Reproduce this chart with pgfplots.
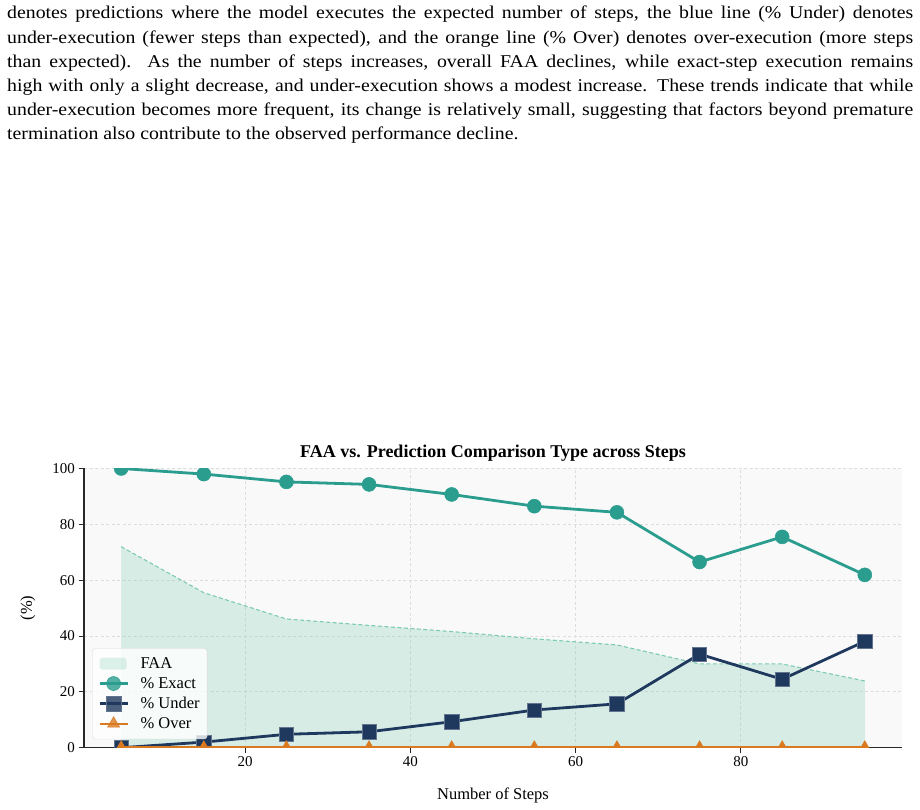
\documentclass[border=0pt]{standalone}
\usepackage{fontspec}
\setmainfont{Liberation Serif}
\newfontfamily\parfont[FakeStretch=1.1]{Liberation Serif}
\usepackage{pgfplots}
\pgfplotsset{compat=1.18}

\definecolor{exactc}{RGB}{42,157,143}
\definecolor{underc}{RGB}{31,57,94}
\definecolor{overc}{RGB}{218,122,32}
\definecolor{faac}{RGB}{102,194,165}
\definecolor{axbg}{RGB}{249,249,249}
\definecolor{gridc}{RGB}{221,221,221}
\definecolor{spinec}{RGB}{40,40,40}

\pgfplotsset{
  wideline legend/.style={legend image code/.code={%
    \draw[mark repeat=2,mark phase=2,##1] plot coordinates {(0pt,0pt) (14pt,0pt) (28pt,0pt)};}},
  widearea legend/.style={legend image code/.code={%
    \fill[##1] (0pt,-6pt) rectangle (27pt,6pt);}},
}

\newcommand{\parline}[1]{\makebox[906pt][s]{#1}}

\begin{document}
\begin{tikzpicture}[x=1pt,y=1pt]
\useasboundingbox (0,0) rectangle (920,810);

% caption text above the figure
\begin{scope}[every node/.style={anchor=base west, inner sep=0pt, font=\parfont\fontsize{18}{24}\selectfont}]
\node at (7,791.0) {\parline{denotes predictions where the model executes the expected number of steps, the blue line (\% Under) denotes}};
\node at (7,766.8) {\parline{under-execution (fewer steps than expected), and the orange line (\% Over) denotes over-execution (more steps}};
\node at (7,742.6) {\parline{than expected).\ \ As the number of steps increases, overall FAA declines, while exact-step execution remains}};
\node at (7,718.4) {\parline{high with only a slight decrease, and under-execution shows a modest increase. These trends indicate that while}};
\node at (7,694.2) {\parline{under-execution becomes more frequent, its change is relatively small, suggesting that factors beyond premature}};
\node at (7,670.0) {termination also contribute to the observed performance decline.};
\end{scope}

\begin{axis}[
  at={(84pt,62.3pt)}, anchor=south west,
  scale only axis, width=818pt, height=279.2pt,
  xmin=0.5, xmax=99.5, ymin=0, ymax=100,
  xtick={20,40,60,80}, ytick={0,20,40,60,80,100},
  axis x line*=bottom, axis y line*=left,
  axis line style={spinec, line width=1.4pt, -},
  tick style={spinec, line width=1pt},
  tick align=outside, major tick length=5.5pt,
  axis background/.style={fill=axbg},
  grid=major,
  major grid style={gridc, line width=0.8pt, dash pattern=on 3pt off 2.5pt},
  /pgf/number format/assume math mode=true,
  tick label style={font=\fontsize{15}{15}\selectfont},
  xlabel={Number of Steps},
  ylabel={(\%)},
  label style={font=\fontsize{16.5}{16.5}\selectfont},
  xlabel style={at={(axis description cs:0.5,0)}, anchor=base, yshift=-52.3pt},
  ylabel style={at={(axis description cs:-0.0687,0.5)}, anchor=center},
  every axis title shift=0pt,
  title={\textbf{FAA vs. Prediction Comparison Type across Steps}},
  title style={font=\fontsize{18}{18}\selectfont, at={(axis description cs:0.5,1)}, anchor=base, yshift=11.2pt},
  clip marker paths=true,
  legend cell align=left,
  legend style={at={(0.0098,0.0305)}, anchor=south west,
    fill=white, fill opacity=0.8, text opacity=1,
    draw=black!15, rounded corners=3pt,
    font=\fontsize{16.5}{16.5}\selectfont,
    inner xsep=6pt, inner ysep=7.5pt, row sep=4.4pt,
    nodes={inner sep=1.5pt},
    /tikz/every odd column/.append style={column sep=10pt}},
]

% FAA as a shaded area
\addplot[fill=faac, fill opacity=0.22, draw=none, widearea legend]
  coordinates {(5,72.0) (15,55.5) (25,46.1) (35,43.8) (45,41.6) (55,39.0) (65,36.8) (75,30.0) (85,30.0) (95,23.9)} \closedcycle;
\addlegendentry{FAA}

\addplot[faac!85, line width=1.1pt, dash pattern=on 4pt off 2.5pt, forget plot]
  coordinates {(5,72.0) (15,55.5) (25,46.1) (35,43.8) (45,41.6) (55,39.0) (65,36.8) (75,30.0) (85,30.0) (95,23.9)};

\addplot[exactc, line width=2.8pt, mark=*, mark size=7pt, mark options={solid, fill=exactc, draw=exactc, line width=0.5pt}, wideline legend]
  coordinates {(5,100) (15,98.0) (25,95.2) (35,94.3) (45,90.7) (55,86.5) (65,84.3) (75,66.5) (85,75.5) (95,61.9)};
\addlegendentry{\% Exact}

\addplot[underc, line width=2.8pt, mark=square*, mark size=7.2pt, mark options={solid, fill=underc, draw=underc!70!white, line width=0.6pt}, wideline legend]
  coordinates {(5,0) (15,2.0) (25,4.8) (35,5.7) (45,9.3) (55,13.5) (65,15.7) (75,33.5) (85,24.5) (95,38.1)};
\addlegendentry{\% Under}

\addplot[overc, line width=2.4pt, mark=triangle*, mark size=7pt, mark options={solid, fill=overc, draw=overc, line width=0.5pt}, wideline legend]
  coordinates {(5,0) (15,0) (25,0) (35,0) (45,0) (55,0) (65,0) (75,0) (85,0) (95,0)};
\addlegendentry{\% Over}

\end{axis}
\end{tikzpicture}
\end{document}
